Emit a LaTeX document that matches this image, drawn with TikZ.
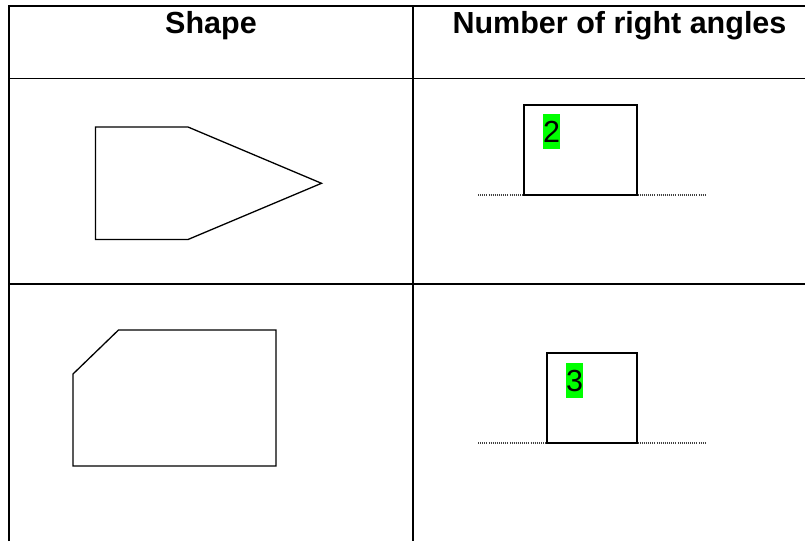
\documentclass[tikz,border=0pt]{standalone}
\usepackage{fontspec}
\setmainfont{Liberation Sans}
\definecolor{hlgreen}{HTML}{00FF00}
\begin{document}
\begin{tikzpicture}[x=1pt,y=-1pt,
  tableline/.style={line width=1.8pt},
  shapeline/.style={line width=1.3pt, line join=miter},
  boxline/.style={line width=1.5pt},
  baseline dots/.style={line width=1.1pt, black!75, dash pattern=on 1pt off 1.1pt},
  header/.style={font=\fontsize{30.5}{36}\selectfont\bfseries, inner sep=0pt, anchor=base},
  digit/.style={font=\fontsize{30.5}{36}\selectfont, inner sep=0pt, anchor=base west},
  hl/.style={fill=hlgreen, draw=none}]
\useasboundingbox (0,0) rectangle (805,541);
% table
\draw[tableline] (9,541) -- (9,6) -- (805,6);
\draw[tableline] (9,78.5) -- (805,78.5);
\draw[tableline] (9,284) -- (805,284);
\draw[tableline] (413,6) -- (413,541);
% headers
\node[header] (h1) at (211,33) {Shape};
\node[header] (h2) at (619.5,33) {Number of right angles};
% shape 1
\draw[shapeline] (95.5,127) -- (188,127) -- (321.5,183.3) -- (188,239.5) -- (95.5,239.5) -- cycle;
% shape 2
\draw[shapeline] (73,374) -- (118.5,330) -- (276,330) -- (276,466) -- (73,466) -- cycle;
% row 1 answer
\draw[baseline dots] (478,195) -- (706,195);
\draw[boxline] (524,105) rectangle (637,195);
\fill[hl] (543,114) rectangle (560,149);
\node[digit] (d2) at (543,142.5) {2};
% row 2 answer
\draw[baseline dots] (478,443) -- (706,443);
\draw[boxline] (547,353) rectangle (637,443);
\fill[hl] (566,363) rectangle (583,398);
\node[digit] (d3) at (566,391.5) {3};
\end{tikzpicture}
\end{document}
